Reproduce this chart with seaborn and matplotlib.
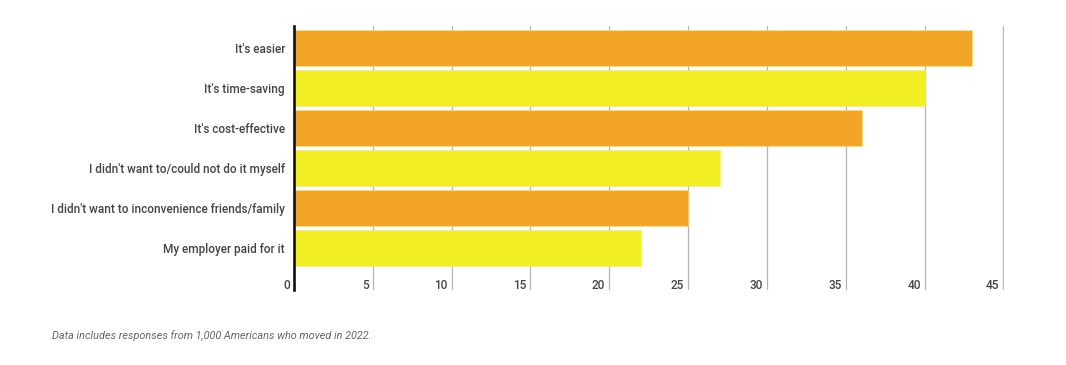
import matplotlib
matplotlib.use("Agg")
import matplotlib.pyplot as plt
import matplotlib.transforms as mtransforms
import pandas as pd
import seaborn as sns

reasons = [
    "It's easier",
    "It's time-saving",
    "It's cost-effective",
    "I didn't want to/could not do it myself",
    "I didn't want to inconvenience friends/family",
    "My employer paid for it",
]
percent = [43, 40, 36, 27, 25, 22]
bar_colors = ["#f2a526", "#f2ee24", "#f2a526", "#f2ee24", "#f2a526", "#f2ee24"]
x_ticks = [0, 5, 10, 15, 20, 25, 30, 35, 40, 45]
note = "Data includes responses from 1,000 Americans who moved in 2022."


def bar_chart(df):
    fig = plt.figure(figsize=(10.66, 3.65), dpi=100)
    ax = fig.add_axes([0.2758, 0.2055, 0.666, 0.7233])
    sns.barplot(
        data=df, x="percent", y="reason", hue="reason",
        palette=bar_colors, saturation=1, legend=False, width=0.9, orient="h",
        edgecolor="#f7e58a", linewidth=0.4, ax=ax, zorder=3,
    )
    ax.set_xlim(0, 45.03)
    ax.set_ylim(6.05, -0.55)
    ax.set_xlabel("")
    ax.set_ylabel("")
    ax.set_xticks(x_ticks)
    ax.set_xticklabels([str(t) for t in x_ticks])
    ax.grid(axis="x", color="#b5b5b5", linewidth=0.9, zorder=0)
    ax.grid(axis="y", visible=False)
    for side in ["top", "right", "bottom"]:
        ax.spines[side].set_visible(False)
    ax.spines["left"].set_color("#111111")
    ax.spines["left"].set_linewidth(1.9)
    ax.spines["left"].set_zorder(5)
    ax.tick_params(axis="y", length=0, pad=6.5, labelsize=8.5, labelcolor="#444444")
    ax.tick_params(axis="x", length=0, pad=-8.2, labelsize=8.5, labelcolor="#444444")
    for lab in ax.get_yticklabels():
        lab.set_fontweight("medium")
    shift = mtransforms.ScaledTranslation(-4 / 100, 0, fig.dpi_scale_trans)
    for lab in ax.get_xticklabels():
        lab.set_horizontalalignment("right")
        lab.set_fontweight("medium")
        lab.set_transform(lab.get_transform() + shift)
    fig.text(52 / 1066, 1 - 336 / 365, note, fontsize=7.8, style="italic",
             color="#666666", va="center", ha="left")
    fig.savefig("out.png", dpi=100, facecolor="white")


def main():
    df = pd.DataFrame({"reason": reasons, "percent": percent})
    bar_chart(df)


if __name__ == "__main__":
    sns.set_theme(style="white")
    plt.rcParams["font.family"] = ["Roboto", "DejaVu Sans"]
    main()
